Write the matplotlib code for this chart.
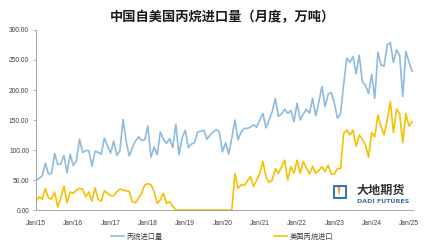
import matplotlib
matplotlib.use("Agg")
import matplotlib.pyplot as plt
from matplotlib.patches import Polygon
import numpy as np

plt.rcParams['font.family'] = ['Noto Sans CJK SC', 'DejaVu Sans']

title = "中国自美国丙烷进口量（月度，万吨）"
series_names = ["丙烷进口量", "美国丙烷进口"]
tick_labels = ["Jan/15", "Jan/16", "Jan/17", "Jan/18", "Jan/19", "Jan/20",
               "Jan/21", "Jan/22", "Jan/23", "Jan/24", "Jan/25"]

# monthly, Jan 2015 onward
total_imports = [
    49, 53, 57, 78, 60, 61, 94, 76, 77, 91, 62, 93,
    74, 82, 118, 96, 99, 99, 73, 98, 96, 93, 120, 107,
    95, 115, 91, 99, 151, 115, 90, 104, 115, 122, 116, 117,
    140, 88, 105, 92, 130, 118, 111, 119, 104, 143, 92, 120,
    133, 104, 110, 112, 130, 131, 133, 118, 125, 130, 134, 130,
    97, 112, 93, 120, 150, 117, 130, 136, 136, 138, 142, 138,
    150, 161, 137, 150, 164, 186, 156, 160, 168, 161, 166, 147,
    178, 150, 160, 168, 161, 186, 157, 180, 206, 172, 193, 196,
    178, 153, 161, 210, 253, 246, 256, 227, 258, 214, 208, 194,
    226, 186, 263, 242, 240, 275, 279, 246, 267, 258, 189, 264,
    247, 231,
]
us_imports = [
    14, 22, 18, 36, 20, 18, 30, 5, 20, 40, 12, 30,
    28, 33, 36, 35, 22, 30, 15, 37, 18, 15, 32, 28,
    24, 24, 30, 35, 33, 32, 31, 14, 12, 20, 28, 42,
    44, 42, 31, 11, 17, 28, 11, 14, 6, 0, 0, 0,
    0, 0, 0, 0, 0, 0, 0, 0, 0, 0, 0, 0,
    0, 0, 0, 0, 61, 36, 42, 41, 48, 56, 39, 50,
    61, 81, 55, 46, 50, 69, 61, 72, 83, 50, 72, 61,
    83, 61, 81, 70, 60, 73, 61, 66, 72, 64, 75, 60,
    60, 69, 69, 128, 133, 125, 133, 106, 125, 118, 108, 88,
    129, 122, 158, 139, 125, 150, 181, 129, 168, 161, 112, 161,
    140, 147,
]

W, H = 441, 247
fig = plt.figure(figsize=(W / 100, H / 100), dpi=100)
ax = fig.add_axes([36 / W, 1 - 210 / H, (413 - 36) / W, 180 / H])

x = np.arange(len(total_imports))
ax.plot(x, total_imports, color='#8fbbe0', lw=1.2, label=series_names[0])
ax.plot(x, us_imports, color='#f7c100', lw=1.2, label=series_names[1])

ax.set_ylim(0, 300)
ax.set_xlim(0, 121.3)
ax.set_yticks(np.arange(0, 301, 50))
ax.set_yticklabels([f"{v:.2f}" for v in np.arange(0, 301, 50)], fontsize=4.8,
                   color='#404040', family='Liberation Sans')
ax.set_xticks(np.arange(0, 121, 12))
ax.set_xticklabels(tick_labels, fontsize=4.8, color='#404040', family='Liberation Sans')
ax.tick_params(axis='y', length=2, width=0.6, color='#a6a6a6', pad=3)
ax.tick_params(axis='x', length=0, pad=7)
for s in ['top', 'right']:
    ax.spines[s].set_visible(False)
ax.spines['left'].set_color('#a6a6a6')
ax.spines['bottom'].set_color('#a6a6a6')
ax.spines['left'].set_linewidth(0.7)
ax.spines['bottom'].set_linewidth(0.7)

fig.text(222 / W, 1 - 17 / H, title, ha='center', va='center',
         fontsize=9.5, fontweight='bold', color='#1a1a1a')

leg = fig.legend(loc='center', bbox_to_anchor=(222 / W, 1 - 237 / H), ncol=2,
                 frameon=False, handlelength=1.8, handletextpad=0.3,
                 columnspacing=15.5, prop={'size': 5.2})
for t in leg.get_texts():
    t.set_color('#404040')

# logo
lax = fig.add_axes([333 / W, 1 - 199 / H, 14 / W, 14 / H])
lax.set_xlim(0, 1)
lax.set_ylim(0, 1)
lax.axis('off')
lax.add_patch(Polygon([[0.05, 0.95], [0.95, 0.95], [0.95, 0.05], [0.05, 0.05]],
                      closed=True, fill=False, ec='#2f6fb5', lw=1.4))
lax.add_patch(Polygon([[0.3, 0.85], [0.55, 0.85], [0.45, 0.2]], closed=True,
                      fc='#e8a33a', ec='none'))
fig.text(357 / W, 1 - 190 / H, "大地期货", ha='left', va='center', fontsize=8.7,
         color='#333333', fontweight='bold')
fig.text(357 / W, 1 - 201.5 / H, "DADI FUTURES", ha='left', va='center', fontsize=4.5,
         color='#3a6ea5', family='DejaVu Sans', fontweight='bold')

fig.savefig("out.png", dpi=100)
